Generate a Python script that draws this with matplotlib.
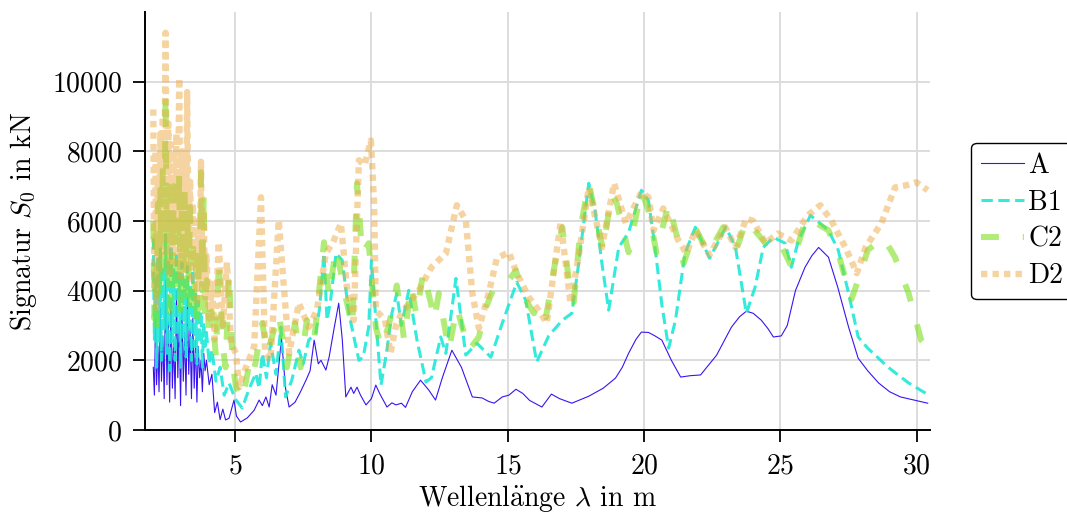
import matplotlib
matplotlib.use("Agg")
import matplotlib.pyplot as plt

plt.rcParams["font.family"] = "cmr10"
plt.rcParams["mathtext.fontset"] = "cm"
plt.rcParams["axes.formatter.use_mathtext"] = True
plt.rcParams["axes.unicode_minus"] = False

# Signatur der Züge A, B1, C2, D2 über der Wellenlänge
lam_A = [2.00, 2.04, 2.08, 2.12, 2.17, 2.21, 2.26, 2.30, 2.35, 2.40, 2.45, 2.50, 2.55, 2.60,
         2.65, 2.70, 2.75, 2.80, 2.85, 2.90, 2.95, 3.00, 3.05, 3.10, 3.15, 3.20, 3.25, 3.30,
         3.35, 3.40, 3.45, 3.50, 3.55, 3.60, 3.65, 3.70, 3.75, 3.80, 3.85, 3.90, 3.95, 4.05,
         4.15, 4.25, 4.35, 4.45, 4.55, 4.65, 4.78, 4.96, 5.05, 5.20, 5.45, 5.70, 5.88, 6.00,
         6.13, 6.25, 6.36, 6.50, 6.70, 6.85, 6.98, 7.20, 7.40, 7.60, 7.75, 7.90, 8.05, 8.15,
         8.33, 8.45, 8.62, 8.80, 8.93, 9.06, 9.25, 9.35, 9.47, 9.60, 9.80, 10.00, 10.16, 10.30,
         10.57, 10.75, 10.90, 11.10, 11.25, 11.50, 11.80, 12.10, 12.35, 12.60, 12.95, 13.30,
         13.70, 14.06, 14.30, 14.50, 14.80, 15.04, 15.30, 15.55, 15.80, 16.25, 16.60, 16.90,
         17.35, 17.97, 18.50, 18.95, 19.20, 19.43, 19.70, 19.90, 20.16, 20.40, 20.65, 21.00,
         21.34, 21.70, 22.07, 22.40, 22.66, 23.20, 23.50, 23.75, 24.00, 24.30, 24.55, 24.74,
         25.03, 25.25, 25.55, 25.90, 26.15, 26.40, 26.76, 27.10, 27.50, 27.85, 28.20, 28.60,
         29.00, 29.40, 30.40]
sig_A = [1800, 1000, 3200, 1300, 2400, 1100, 3500, 1400, 2700, 900, 4300, 1300, 3100, 800,
         3700, 1200, 2600, 900, 4000, 1500, 3100, 700, 3500, 1400, 2800, 1000, 3800, 1600,
         2900, 900, 3200, 1200, 2600, 800, 2400, 1500, 2000, 1100, 2200, 1700, 2000, 1300,
         1600, 500, 800, 300, 600, 290, 340, 860, 400, 230, 350, 570, 860, 700,
         950, 660, 1300, 1000, 2640, 1200, 660, 800, 1100, 1430, 1700, 2580, 1900, 2000,
         1720, 2100, 2870, 3640, 2600, 950, 1230, 1050, 1230, 1000, 720, 900, 1290, 1050,
         660, 780, 720, 770, 650, 1100, 1430, 1150, 860, 1500, 2290, 1800,
         950, 920, 820, 770, 950, 1000, 1170, 1050, 850, 660, 1030, 900,
         770, 970, 1200, 1490, 1800, 2200, 2600, 2810, 2800, 2700, 2580, 2000,
         1520, 1560, 1580, 1900, 2150, 2950, 3250, 3410, 3350, 3150, 2900, 2670,
         2700, 3000, 4000, 4670, 5000, 5240, 4960, 4100, 2950, 2060, 1700, 1350,
         1100, 950, 770]

lam_B1 = [2.00, 2.04, 2.08, 2.12, 2.17, 2.21, 2.26, 2.30, 2.35, 2.40, 2.45, 2.50, 2.55, 2.60,
          2.65, 2.70, 2.75, 2.80, 2.85, 2.90, 2.95, 3.00, 3.05, 3.10, 3.15, 3.20, 3.25, 3.30,
          3.35, 3.40, 3.45, 3.50, 3.55, 3.60, 3.65, 3.70, 3.75, 3.80, 3.85, 3.90, 3.95, 4.05,
          4.15, 4.30, 4.45, 4.60, 4.78, 5.00, 5.26, 5.50, 5.76, 5.88, 6.00, 6.15, 6.30, 6.50,
          6.68, 6.85, 7.08, 7.34, 7.50, 7.70, 7.96, 8.10, 8.26, 8.37, 8.50, 8.70, 8.93, 9.17,
          9.54, 9.70, 9.90, 10.00, 10.10, 10.35, 10.55, 10.75, 10.93, 11.10, 11.37, 11.67,
          12.00, 12.20, 12.54, 12.73, 13.10, 13.46, 13.87, 14.38, 14.80, 15.33, 15.66, 16.06,
          16.50, 17.00, 17.35, 17.60, 17.97, 18.20, 18.45, 18.70, 19.07, 19.43, 19.90, 20.16,
          20.40, 20.65, 20.90, 21.15, 21.50, 21.88, 22.40, 23.00, 23.35, 23.75, 24.07, 24.37,
          24.74, 25.17, 25.40, 25.66, 26.10, 26.76, 27.12, 27.50, 27.85, 28.20, 28.95, 29.70,
          30.40]
sig_B1 = [5500, 2600, 4400, 1800, 5000, 2500, 5200, 2000, 4700, 2900, 5600, 2200, 4900, 1700,
          5300, 2500, 4600, 2000, 5100, 2700, 4500, 1800, 4800, 2600, 4300, 2100, 4700, 2900,
          4200, 2000, 4600, 2400, 3900, 1900, 3700, 2500, 3400, 1800, 3100, 2400, 2800, 1900,
          2300, 1400, 1800, 1000, 1350, 900, 630, 1150, 1630, 1200, 2200, 1500, 2490, 1600,
          2950, 950, 1430, 2290, 1900, 2580, 2780, 3500, 5070, 3150, 3700, 5070, 4870, 3350,
          2000, 2100, 2950, 4870, 3800, 1290, 2200, 3350, 3920, 3000, 4010, 2580,
          1380, 1500, 2670, 2200, 4350, 2150, 2490, 2090, 3070, 4240, 3720, 1950,
          2700, 3150, 3350, 4780, 7080, 6300, 4800, 3440, 5240, 5670, 6880, 6590,
          5240, 3600, 2350, 3150, 5070, 5820, 4930, 5820, 5240, 3350, 4100, 5240,
          5530, 5360, 4670, 5440, 6160, 5730, 5160, 3920, 2670, 2350, 1800, 1350,
          1020]

lam_C2 = [2.00, 2.04, 2.08, 2.12, 2.17, 2.21, 2.26, 2.30, 2.35, 2.40, 2.45, 2.50, 2.55, 2.60,
          2.65, 2.70, 2.75, 2.80, 2.85, 2.90, 2.95, 3.00, 3.05, 3.10, 3.15, 3.20, 3.25, 3.30,
          3.35, 3.40, 3.45, 3.50, 3.55, 3.60, 3.65, 3.70, 3.75, 3.80, 3.85, 3.90, 3.95, 4.05,
          4.15, 4.30, 4.40, 4.55, 4.65, 4.78, 4.90, 5.03, 5.26, 5.50, 5.65, 6.00, 6.18, 6.40,
          6.60, 6.90, 7.20, 7.40, 7.63, 7.90, 8.26, 8.44, 8.70, 9.00, 9.30, 9.47, 9.66, 9.90,
          10.16, 10.35, 10.64, 10.93, 11.20, 11.45, 11.65, 11.90, 12.18, 12.30, 12.47, 12.73,
          12.84, 13.13, 13.57, 13.94, 14.20, 14.56, 15.04, 15.30, 15.60, 15.96, 16.13, 16.40,
          16.75, 17.00, 17.24, 17.42, 17.67, 17.97, 18.50, 18.80, 19.00, 19.43, 19.90, 20.16,
          20.45, 20.90, 21.45, 21.88, 22.36, 22.90, 23.40, 23.75, 24.45, 24.90, 25.40, 25.95,
          26.76, 27.12, 27.60, 27.85, 28.20, 28.77, 29.20, 29.70, 30.16, 30.40]
sig_C2 = [6000, 3200, 5500, 3000, 6500, 3600, 6900, 4200, 7600, 5000, 9700, 4500, 7000, 3400,
          6600, 4200, 7000, 3800, 6200, 4500, 7400, 3300, 6600, 4200, 6900, 3500, 6100, 4400,
          6400, 3200, 5600, 3900, 5000, 2900, 4600, 3500, 7400, 4000, 6800, 3300, 4300, 2600,
          3400, 2100, 4870, 2400, 1800, 4500, 2000, 1230, 860, 1800, 1500, 3070, 2200, 2800,
          3350, 1800, 3070, 1800, 3150, 2580, 5390, 3810, 5240, 4010, 2950, 7080, 5070, 5360,
          2950, 2380, 3000, 4150, 2580, 4150, 3300, 4530, 3640, 3150, 3920, 2780,
          2290, 3520, 2290, 2670, 3520, 4210, 4300, 4580, 3800, 3350, 3640, 3240,
          4870, 5820, 4300, 3670, 5820, 7080, 5160, 6790, 6500, 5100, 6880, 6300,
          5100, 6500, 4780, 5790, 5070, 5820, 5210, 6020, 5360, 5500, 4700, 6100,
          5730, 5070, 3750, 4300, 5160, 5530, 4960, 3920, 2580, 2350]

lam_D2 = [2.00, 2.04, 2.08, 2.12, 2.17, 2.21, 2.26, 2.30, 2.35, 2.40, 2.45, 2.50, 2.55, 2.60,
          2.65, 2.70, 2.75, 2.80, 2.85, 2.90, 2.95, 3.00, 3.05, 3.10, 3.15, 3.20, 3.24, 3.30,
          3.35, 3.40, 3.45, 3.50, 3.55, 3.60, 3.65, 3.70, 3.75, 3.80, 3.85, 3.90, 3.95, 4.05,
          4.15, 4.25, 4.40, 4.55, 4.70, 4.85, 5.03, 5.15, 5.30, 5.50, 5.70, 5.95, 6.10, 6.30,
          6.60, 6.80, 6.98, 7.34, 7.70, 8.00, 8.33, 8.60, 8.88, 9.10, 9.35, 9.54, 9.75, 9.98,
          10.10, 10.16, 10.50, 10.70, 10.90, 11.10, 11.74, 12.20, 12.73, 13.13, 13.46, 13.70,
          13.94, 14.30, 14.60, 15.04, 15.33, 15.77, 16.13, 16.43, 16.94, 17.30, 17.60, 17.97,
          18.45, 18.90, 19.33, 19.90, 20.16, 20.35, 20.70, 21.26, 21.55, 21.88, 22.40, 22.98,
          23.35, 23.75, 24.00, 24.45, 24.90, 25.40, 26.00, 26.46, 26.86, 27.40, 27.80, 28.12,
          28.70, 29.20, 29.60, 29.98, 30.40]
sig_D2 = [9200, 4000, 8000, 3500, 7200, 4500, 8500, 5000, 9000, 6000, 11400, 5500, 8800, 4500,
          8200, 5200, 7800, 4800, 8500, 5800, 10100, 4400, 8000, 5200, 7300, 4600, 9700, 5300,
          7200, 4200, 6500, 4800, 6000, 3600, 5500, 4200, 7700, 4400, 6300, 3800, 5000, 3200,
          4200, 2600, 5390, 3000, 4810, 2500, 2200, 1230, 1600, 2000, 2400, 6680, 2200, 2000,
          6020, 4000, 2200, 3640, 2950, 3440, 5070, 5400, 5930, 4100, 3150, 7740, 7600, 8310,
          6500, 3440, 3150, 2200, 3000, 3350, 4010, 4670, 5070, 6450, 6020, 3920,
          2920, 3920, 4930, 5100, 4500, 3810, 3440, 3070, 5960, 3640, 5000, 6960,
          5240, 7080, 5930, 6820, 6680, 5730, 6360, 5440, 5070, 5730, 5020, 5820,
          5240, 6070, 6000, 5360, 5640, 5440, 6160, 6450, 6020, 5210, 4500, 5240,
          5930, 6960, 7020, 7110, 6880]

fig = plt.figure(figsize=(10.67, 5.15), dpi=100)
ax = fig.add_axes([0.136, 0.165, 0.736, 0.812])

ax.plot(lam_A, sig_A, color="#3a14f0", lw=0.8, label="A")
ax.plot(lam_B1, sig_B1, color="#1ee8d8", lw=2.2, alpha=0.9, ls=(0, (3.7, 1.8)), label="B1")
ax.plot(lam_C2, sig_C2, color="#7ee01e", lw=4.3, alpha=0.6, ls=(0, (3.0, 4.0)), label="C2")
ax.plot(lam_D2, sig_D2, color="#eeaa44", lw=4.6, alpha=0.5, ls=(0, (1.0, 0.8)), label="D2")

ax.set_xlim(1.7, 30.5)
ax.set_ylim(0, 12000)
ax.set_xticks([5, 10, 15, 20, 25, 30])
ax.set_yticks([0, 2000, 4000, 6000, 8000, 10000])
ax.grid(True, color="#dddddd", lw=1.4)
ax.set_axisbelow(True)
for side in ["top", "right"]:
    ax.spines[side].set_visible(False)
for side in ["left", "bottom"]:
    ax.spines[side].set_linewidth(1.4)
ax.tick_params(labelsize=20, width=1.3, length=8.5, pad=8)

ax.set_xlabel(r"Wellenl$\mathrm{\ddot{a}}$nge $\lambda$ in m", fontsize=20, labelpad=3)
ax.set_ylabel(r"Signatur $S_0$ in kN", fontsize=20, labelpad=9)

leg = ax.legend(loc="center left", bbox_to_anchor=(1.052, 0.5), borderaxespad=0,
                fontsize=20, edgecolor="black", fancybox=True, framealpha=1,
                handlelength=1.55, borderpad=0.35, labelspacing=0.38, handletextpad=0.15)
leg.get_frame().set_linewidth(1.0)

fig.savefig("out.png", dpi=100)
